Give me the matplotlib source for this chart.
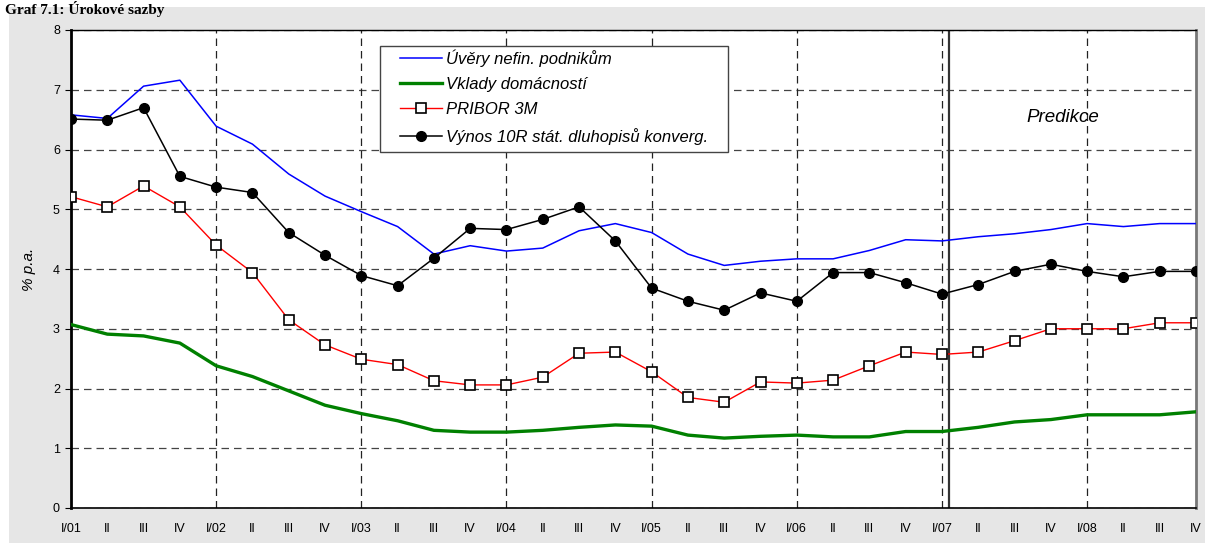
import matplotlib
matplotlib.use('Agg')
import matplotlib.pyplot as plt
from matplotlib.patches import Rectangle

plt.rcParams['font.family'] = ['Liberation Sans', 'DejaVu Sans']

quarters = ['I/01', 'II', 'III', 'IV', 'I/02', 'II', 'III', 'IV',
            'I/03', 'II', 'III', 'IV', 'I/04', 'II', 'III', 'IV',
            'I/05', 'II', 'III', 'IV', 'I/06', 'II', 'III', 'IV',
            'I/07', 'II', 'III', 'IV', 'I/08', 'II', 'III', 'IV']

uvery = [6.58, 6.52, 7.06, 7.16, 6.39, 6.09, 5.59, 5.22,
         4.96, 4.71, 4.25, 4.39, 4.30, 4.35, 4.64, 4.76,
         4.61, 4.25, 4.06, 4.13, 4.17, 4.17, 4.31, 4.49,
         4.47, 4.54, 4.59, 4.66, 4.76, 4.71, 4.76, 4.76]

vklady = [3.07, 2.91, 2.88, 2.76, 2.38, 2.20, 1.96, 1.72,
          1.58, 1.46, 1.30, 1.27, 1.27, 1.30, 1.35, 1.39,
          1.37, 1.22, 1.17, 1.20, 1.22, 1.19, 1.19, 1.28,
          1.28, 1.35, 1.44, 1.48, 1.56, 1.56, 1.56, 1.61]

pribor = [5.21, 5.04, 5.39, 5.04, 4.40, 3.94, 3.15, 2.73,
          2.49, 2.40, 2.13, 2.06, 2.06, 2.19, 2.59, 2.61,
          2.28, 1.85, 1.77, 2.11, 2.09, 2.14, 2.38, 2.61,
          2.57, 2.61, 2.80, 3.00, 3.00, 3.00, 3.10, 3.10]

vynos = [6.51, 6.49, 6.70, 5.55, 5.37, 5.28, 4.61, 4.23,
         3.89, 3.72, 4.18, 4.68, 4.66, 4.83, 5.04, 4.47,
         3.68, 3.46, 3.31, 3.60, 3.46, 3.94, 3.94, 3.77,
         3.58, 3.74, 3.96, 4.08, 3.96, 3.87, 3.96, 3.96]

x = list(range(len(quarters)))
years = list(range(0, len(quarters), 4))

fig = plt.figure(figsize=(12.05, 5.43), dpi=100, facecolor='#e6e6e6')
# white strips at the top and left edge
fig.patches.append(Rectangle((0, 1 - 7 / 543), 1, 7 / 543, transform=fig.transFigure,
                             facecolor='white', edgecolor='none', zorder=0))
fig.patches.append(Rectangle((0, 0), 9 / 1205, 1, transform=fig.transFigure,
                             facecolor='white', edgecolor='none', zorder=0))
fig.text(0.004, 0.999, 'Graf 7.1: Úrokové sazby', family='Liberation Serif',
         fontsize=11, fontweight='bold', va='top')

ax = fig.add_axes([71 / 1205, 1 - 508 / 543, (1196 - 71) / 1205, (508 - 30) / 543])
ax.set_facecolor('white')

ax.plot(x, uvery, color='#0000ff', lw=1.1, label='Úvěry nefin. podnikům', zorder=3)
ax.plot(x, vklady, color='#008000', lw=2.4, label='Vklady domácností', zorder=3)
ax.plot(x, pribor, color='#ff0000', lw=1.0, marker='s', ms=6.5, mfc='white',
        mec='black', mew=1.2, label='PRIBOR 3M', zorder=4)
ax.plot(x, vynos, color='black', lw=1.1, marker='o', ms=7, mfc='black',
        mec='black', label='Výnos 10R stát. dluhopisů konverg.', zorder=4)

# year gridlines and the forecast boundary
for yr in years[1:]:
    ax.axvline(yr, color='#222222', lw=0.9, ls=(0, (6, 4)), zorder=1)
ax.axvline(24.2, color='#333333', lw=1.6, zorder=2)
ax.text(27.33, 6.53, 'Predikce', style='italic', fontsize=13.5, ha='center', va='center')

ax.set_xlim(0, 31)
ax.set_ylim(0, 8)
ax.set_yticks(range(0, 9))
ax.set_xticks(x)
ax.set_xticklabels(quarters)
ax.set_xticks(years, minor=True)
ax.tick_params(axis='x', which='major', length=0, pad=11, labelsize=9)
ax.tick_params(axis='x', which='minor', length=4, direction='out')
ax.tick_params(axis='y', length=4, direction='out', labelsize=9, pad=4)

ax.grid(True, axis='y', which='major', color='#444444', lw=0.9, ls=(0, (6, 4)))
ax.set_axisbelow(True)

ax.spines['left'].set_linewidth(2)
ax.spines['bottom'].set_linewidth(1.2)
ax.spines['top'].set_linewidth(1)
ax.spines['right'].set_color('#777777')
ax.spines['right'].set_linewidth(2)

ax.set_ylabel('% p.a.', style='italic', fontsize=11, labelpad=12)

# legend box drawn separately, legend entries placed inside it
ax.add_patch(Rectangle((0.2747, 0.7448), 0.584 - 0.2747, 0.9665 - 0.7448,
                       transform=ax.transAxes, facecolor='white', edgecolor='#444444',
                       lw=1, zorder=5))
leg = ax.legend(loc='upper left', bbox_to_anchor=(0.2924, 0.960),
                frameon=False, fontsize=12, handlelength=2.5, labelspacing=0.62,
                borderpad=0, handletextpad=0.25, borderaxespad=0)
leg.set_zorder(6)
for t in leg.get_texts():
    t.set_style('italic')

fig.savefig('out.png', dpi=100, facecolor=fig.get_facecolor())
